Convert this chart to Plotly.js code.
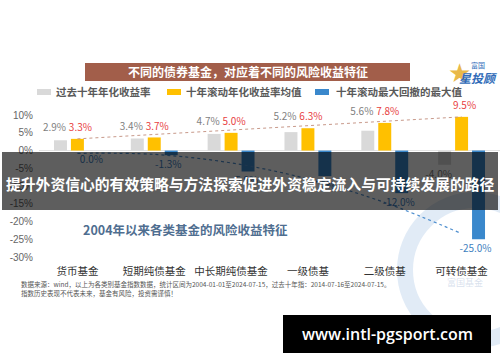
<!DOCTYPE html>
<html><head><meta charset="utf-8">
<script src="https://cdn.plot.ly/plotly-3.0.1.min.js"></script>
<style>html,body{margin:0;padding:0;background:#fff;}#chart{width:500px;height:362px;}</style>
</head><body><div id="chart"></div>
<script>
// ---- data ----
const categories = ['货币基金','短期纯债基金','中长期纯债基金','一级债基','二级债基','可转债基金'];
const seriesNames = ['过去十年年化收益率','十年滚动年化收益率均值','十年滚动最大回撤的最大值'];
const past10yReturn = [2.9, 3.4, 4.7, 5.2, 5.6, -4.0];
const rollingReturnMean = [3.3, 3.7, 5.0, 6.3, 7.8, 9.5];
const maxDrawdown = [0.0, -1.3, -5.9, -7.2, -12.0, -25.0];
const yTickVals = [10, 5, 0, -5, -10, -15, -20, -25, -30];
const yTickText = ['10%','5%','0%','-5%','-10%','-15%','-20%','-25%','-30%'];
const titleText = '不同的债券基金，对应着不同的风险收益特征';
const subtitleText = '2004年以来各类基金的风险收益特征';
const overlayText = '提升外资信心的有效策略与方法探索促进外资稳定流入与可持续发展的路径';
const sourceLines = ['数据来源：wind，以上为各类别基金指数数据，统计区间为2004-01-01至2024-07-15，过去十年指：2014-07-16至2024-07-15。',
                     '指数历史表现不代表未来，基金有风险，投资需谨慎！'];
const siteText = 'www.intl-pgsport.com';

const idx = categories.map((_, i) => i);

// ---- trend lines derived from data ----
const yellowTrendX = [idx[0], idx[idx.length-1]];
const yellowTrend = [rollingReturnMean[0], rollingReturnMean[rollingReturnMean.length-1]];
function quadFit(ys){
  const n = ys.length, m = (n-1)/2;
  let su2=0, su4=0, sy=0, suy=0, su2y=0;
  ys.forEach((y,i)=>{const u=i-m; su2+=u*u; su4+=u**4; sy+=y; suy+=u*y; su2y+=u*u*y;});
  const b = suy/su2;
  const c = (su2y - su2*sy/n)/(su4 - su2*su2/n);
  const a = (sy - c*su2)/n;
  return ys.map((_,i)=>{const u=i-m; return a+b*u+c*u*u;});
}
const blueTrend = quadFit(maxDrawdown);

const fmt = v => v.toFixed(1) + '%';
const COLORS = ['#d9d9d9', '#ffc000', '#3a88cc'];
const FONT = '"Noto Sans CJK SC", "Noto Sans", sans-serif';

// bar group geometry (in category units)
const BARGAP = 0.338, GROUPGAP = 0.235;
const SLOT = (1 - BARGAP) / 3;
const PXU = 1 / 77; // ~one pixel in category units

// plot area geometry (pixels) for decoration placement
const M = {l:39, r:0, t:108, b:105};
const PW = 500 - M.l - M.r, PH = 362 - M.t - M.b;
const fx = px => (px - M.l) / PW;
const fy = py => (M.t + PH - py) / PH;

const barTrace = (k, ys) => ({type:'bar', name:seriesNames[k], x:idx, y:ys, marker:{color:COLORS[k]}, hoverinfo:'skip'});
const labelTrace = (xs, ys, texts, pos, color) => ({type:'scatter', mode:'markers+text', x:xs, y:ys, text:texts,
  marker:{size:7, opacity:0}, textposition:pos, textfont:{family:FONT, size:10, color:color},
  cliponaxis:false, hoverinfo:'skip', showlegend:false});

const traces = [
  barTrace(0, past10yReturn),
  barTrace(1, rollingReturnMean),
  barTrace(2, maxDrawdown),
  {type:'scatter', mode:'lines', x:yellowTrendX, y:yellowTrend, showlegend:false, hoverinfo:'skip',
   line:{color:'#c8998a', width:1, dash:'dot'}, cliponaxis:false},
  {type:'scatter', mode:'lines', x:idx, y:blueTrend, showlegend:false, hoverinfo:'skip',
   line:{color:'#4f8fcf', width:1.2, dash:'dot', shape:'spline'}, cliponaxis:false},
  labelTrace(idx.map(i => i - SLOT - 6*PXU),
             past10yReturn.map((v,i) => v >= 0 ? Math.max(v, rollingReturnMean[i]) : v),
             past10yReturn.map(fmt),
             past10yReturn.map(v => v >= 0 ? 'top center' : 'bottom center'), '#7f7f7f'),
  labelTrace(idx.map(i => i + 3*PXU), rollingReturnMean, rollingReturnMean.map(fmt),
             rollingReturnMean.map(v => v >= 0 ? 'top center' : 'bottom center'), '#e8413f'),
  labelTrace(idx.map(i => i + SLOT - 3*PXU), maxDrawdown, maxDrawdown.map(fmt),
             maxDrawdown.map(v => v > 0 ? 'top center' : 'bottom center'), '#3f7fc0')
];

const shapes = [
  {type:'circle', xref:'paper', yref:'paper', layer:'below',
   x0:fx(405), x1:fx(545), y0:fy(340), y1:fy(200), line:{color:'rgba(200,218,238,0.55)', width:16}},
  {type:'rect', xref:'paper', yref:'paper', layer:'above',
   x0:fx(85), x1:fx(410), y0:fy(81), y1:fy(63), fillcolor:'#a25e4a', line:{width:0}},
  {type:'rect', xref:'paper', yref:'paper', x0:fx(37), x1:fx(51), y0:fy(95), y1:fy(89), fillcolor:COLORS[0], line:{width:0}},
  {type:'rect', xref:'paper', yref:'paper', x0:fx(167), x1:fx(181), y0:fy(95), y1:fy(89), fillcolor:COLORS[1], line:{width:0}},
  {type:'rect', xref:'paper', yref:'paper', x0:fx(315), x1:fx(329), y0:fy(95), y1:fy(89), fillcolor:COLORS[2], line:{width:0}},
  {type:'rect', xref:'paper', yref:'paper', layer:'above',
   x0:fx(2), x1:fx(498), y0:fy(210), y1:fy(152), fillcolor:'rgba(0,0,0,0.63)', line:{width:0}},
  {type:'rect', xref:'paper', yref:'paper', layer:'above',
   x0:fx(283), x1:fx(491), y0:fy(353), y1:fy(315), fillcolor:'#000', line:{width:0}}
];

const ann = (px, py, text, opts) => Object.assign({xref:'paper', yref:'paper', x:fx(px), y:fy(py), text:text,
  showarrow:false, xanchor:'center', yanchor:'middle', borderpad:0, font:{family:FONT, size:10, color:'#333'}}, opts||{});

const annotations = [
  ann(247.5, 72, '<b>'+titleText+'</b>', {font:{family:FONT, size:12, color:'#fff'}}),
  ann(55, 92, '<b>'+seriesNames[0]+'</b>', {xanchor:'left', font:{family:FONT, size:10.5, color:'#595959'}}),
  ann(185, 92, '<b>'+seriesNames[1]+'</b>', {xanchor:'left', font:{family:FONT, size:10.5, color:'#595959'}}),
  ann(335, 92, '<b>'+seriesNames[2]+'</b>', {xanchor:'left', font:{family:FONT, size:10.5, color:'#595959'}}),
  ann(459, 73, '★', {font:{family:'DejaVu Sans', size:26, color:'#e9b949'}}),
  ann(478, 65, '富国', {font:{family:FONT, size:7, color:'#2f6bb8'}}),
  ann(478, 77, '<b><i>星投顾</i></b>', {font:{family:FONT, size:12, color:'#2f6bb8'}}),
  ann(82, 229, '<b>'+subtitleText+'</b>', {xanchor:'left', font:{family:FONT, size:12.5, color:'#4f6e90'}}),
  ann(465, 282, '富国基金', {font:{family:FONT, size:9, color:'rgba(170,190,215,0.45)'}}),
  ann(20, 284, sourceLines[0], {xanchor:'left', font:{family:FONT, size:6.5, color:'#555'}}),
  ann(20, 293, sourceLines[1], {xanchor:'left', font:{family:FONT, size:6.5, color:'#555'}}),
  ann(250, 183, '<b>'+overlayText+'</b>', {font:{family:FONT, size:14.8, color:'#fff'}}),
  ann(387, 334, siteText, {font:{family:'Open Sans, DejaVu Sans, sans-serif', size:16, color:'#fff', weight:600}})
];

const layout = {
  width:500, height:362, margin:M,
  paper_bgcolor:'#fff', plot_bgcolor:'rgba(0,0,0,0)',
  barmode:'group', bargap:BARGAP, bargroupgap:GROUPGAP,
  showlegend:false,
  font:{family:FONT},
  xaxis:{type:'linear', range:[-0.5, categories.length - 0.5], tickvals:idx, ticktext:categories,
         showgrid:false, zeroline:false, showline:false, ticks:'',
         tickfont:{family:FONT, size:10.5, color:'#333'}, ticklabelstandoff:6, fixedrange:true},
  yaxis:{range:[-30, 12], tickvals:yTickVals, ticktext:yTickText, showgrid:false,
         zeroline:true, zerolinecolor:'#e3e3e3', zerolinewidth:1, showline:false, ticks:'',
         tickfont:{family:'Liberation Sans, Arial, sans-serif', size:10, color:'#666'}, ticklabelstandoff:5, fixedrange:true},
  shapes:shapes, annotations:annotations
};

Plotly.newPlot('chart', traces, layout, {staticPlot:true, displayModeBar:false});
</script></body></html>
